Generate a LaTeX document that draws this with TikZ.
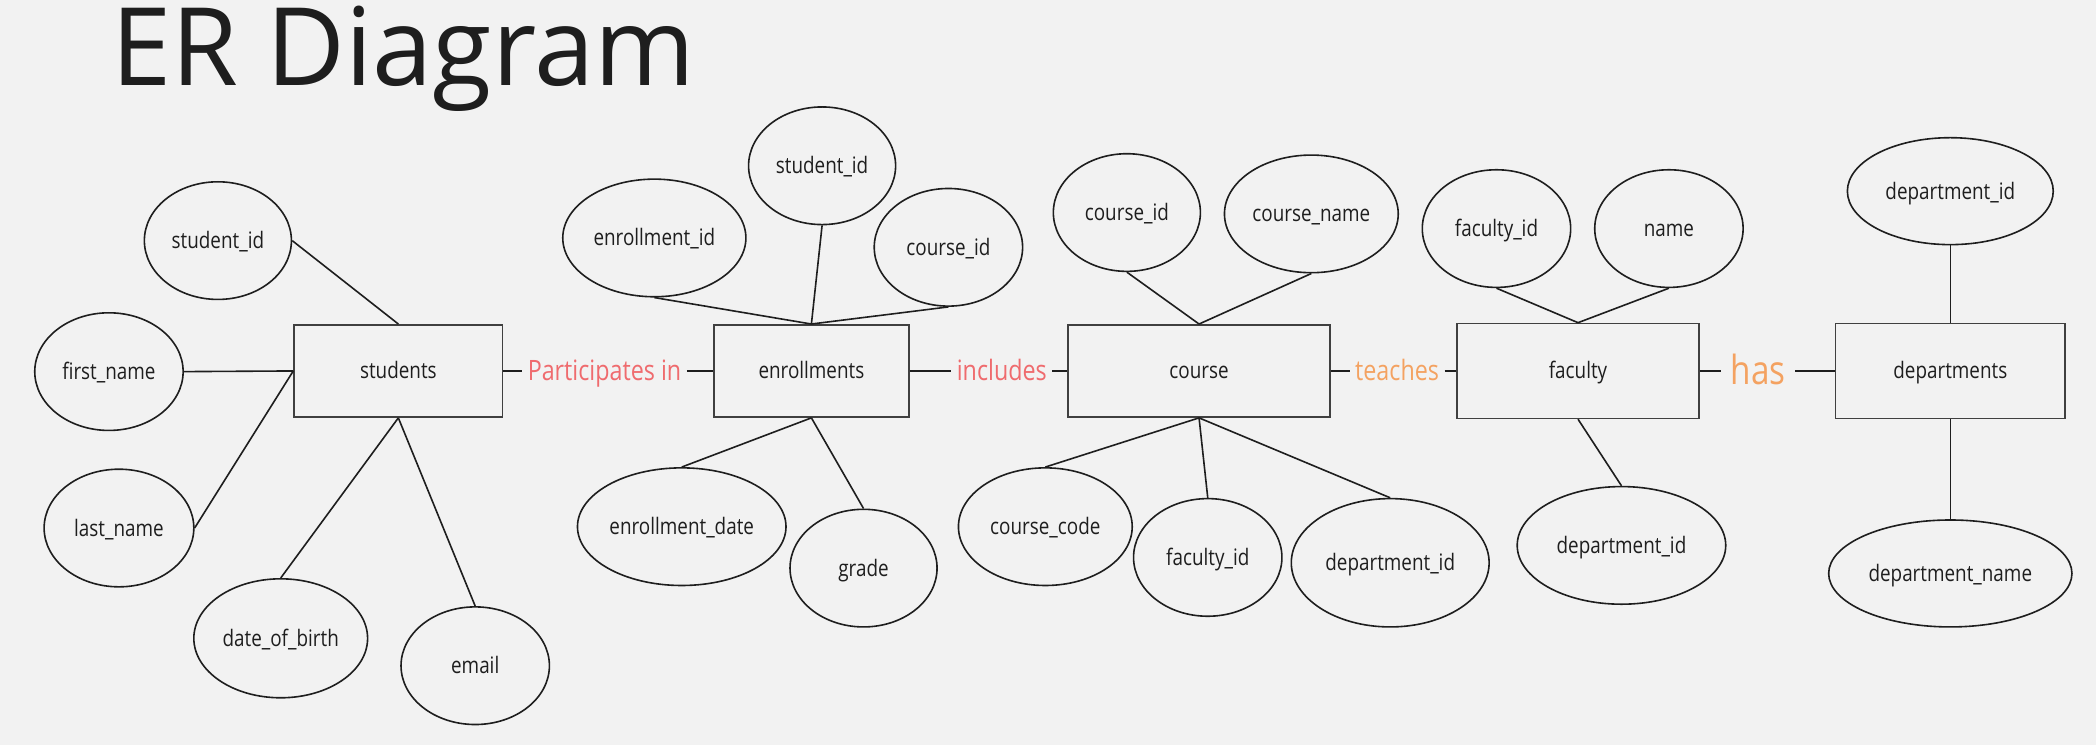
\documentclass[tikz,border=0pt]{standalone}
\usepackage{fontspec}
\setmainfont[FakeStretch=0.83]{Open Sans}
\newfontfamily\titlefont{Open Sans}
\usetikzlibrary{positioning,shapes.geometric}

\definecolor{bg}{HTML}{F2F2F2}
\definecolor{ink}{HTML}{1E1E1E}
\definecolor{relred}{HTML}{EF6B6E}
\definecolor{relorange}{HTML}{F4A261}

\begin{document}
\begin{tikzpicture}[x=1pt,y=-1pt,
    entity/.style={rectangle,draw=ink!85,line width=1.2pt,inner sep=0pt,text=ink,
      text height=12pt,text depth=0pt,font=\fontsize{17}{20}\selectfont},
    attr/.style={ellipse,draw=ink,line width=1.2pt,inner sep=0pt,text=ink,
      text height=12pt,text depth=0pt,font=\fontsize{17}{20}\selectfont},
    rel/.style={inner xsep=4pt,inner ysep=0pt,text height=15pt,text depth=0pt,
      font=\fontsize{21}{24}\selectfont},
    link/.style={draw=ink,line width=1.2pt}]

  \fill [bg] (0,0) rectangle (1568,557);
  \useasboundingbox (0,0) rectangle (1568,557);

  \node [anchor=base west,inner sep=0pt,text=ink,font=\titlefont\fontsize{81}{88}\selectfont] (title) at (83,64) {ER Diagram};

  % entities
  \node [entity,minimum width=156pt,minimum height=69pt] (students) at (298,277.5) {students};
  \node [entity,minimum width=146pt,minimum height=69pt] (enrollments) at (607,277.5) {enrollments};
  \node [entity,minimum width=196pt,minimum height=69pt] (course) at (897,277.5) {course};
  \node [entity,minimum width=181pt,minimum height=71pt] (faculty) at (1180.5,277.5) {faculty};
  \node [entity,minimum width=172pt,minimum height=71pt] (departments) at (1459,277.5) {departments};

  % relationships
  \node [rel,text=relred,right=14pt of students] (partin) {Participates in};
  \node [rel,text=relred,right=31pt of enrollments] (includes) {includes};
  \node [rel,text=relorange,right=14pt of course] (teaches) {teaches};
  \node [rel,text=relorange,inner xsep=7pt,text height=21pt,font=\fontsize{30}{34}\selectfont,right=16pt of faculty] (has) {has};

  \draw [link] (students) -- (partin);
  \draw [link] (partin) -- (enrollments);
  \draw [link] (enrollments) -- (includes);
  \draw [link] (includes) -- (course);
  \draw [link] (course) -- (teaches);
  \draw [link] (teaches) -- (faculty);
  \draw [link] (faculty) -- (has);
  \draw [link] (has) -- (departments);

  % students attributes
  \node [attr,minimum width=110pt,minimum height=88pt] (stuid) at (163,180) {student\_id};
  \node [attr,minimum width=111pt,minimum height=88pt] (first) at (81.5,278) {first\_name};
  \node [attr,minimum width=112pt,minimum height=88pt] (last) at (89,395) {last\_name};
  \node [attr,minimum width=130pt,minimum height=89pt] (dob) at (210,477.5) {date\_of\_birth};
  \node [attr,minimum width=111pt,minimum height=88pt] (email) at (355.5,498) {email};
  \draw [link] (stuid.east) -- (students.north);
  \draw [link] (first.east) -- (students.west);
  \draw [link] (last.east) -- (students.west);
  \draw [link] (dob.north) -- (students.south);
  \draw [link] (email.north) -- (students.south);

  % enrollments attributes
  \node [attr,minimum width=137pt,minimum height=88pt] (enrid) at (489.5,178) {enrollment\_id};
  \node [attr,minimum width=110pt,minimum height=88pt] (enrsid) at (615,124) {student\_id};
  \node [attr,minimum width=111pt,minimum height=88pt] (enrcid) at (709.5,185) {course\_id};
  \node [attr,minimum width=156pt,minimum height=88pt] (enrdate) at (510,394) {enrollment\_date};
  \node [attr,minimum width=110pt,minimum height=88pt] (grade) at (646,425) {grade};
  \draw [link] (enrid.south) -- (enrollments.north);
  \draw [link] (enrsid.south) -- (enrollments.north);
  \draw [link] (enrcid.south) -- (enrollments.north);
  \draw [link] (enrdate.north) -- (enrollments.south);
  \draw [link] (grade.north) -- (enrollments.south);

  % course attributes
  \node [attr,minimum width=110pt,minimum height=88pt] (crsid) at (843,159) {course\_id};
  \node [attr,minimum width=130pt,minimum height=88pt] (crsname) at (981,160) {course\_name};
  \node [attr,minimum width=130pt,minimum height=88pt] (crscode) at (782,394) {course\_code};
  \node [attr,minimum width=111pt,minimum height=88pt] (crsfid) at (903.5,417) {faculty\_id};
  \node [attr,minimum width=148pt,minimum height=96pt] (crsdid) at (1040,421) {department\_id};
  \draw [link] (crsid.south) -- (course.north);
  \draw [link] (crsname.south) -- (course.north);
  \draw [link] (crscode.north) -- (course.south);
  \draw [link] (crsfid.north) -- (course.south);
  \draw [link] (crsdid.north) -- (course.south);

  % faculty attributes
  \node [attr,minimum width=111pt,minimum height=88pt] (facid) at (1119.5,171) {faculty\_id};
  \node [attr,minimum width=111pt,minimum height=88pt] (facname) at (1248.5,171) {name};
  \node [attr,minimum width=156pt,minimum height=88pt] (facdid) at (1213,408) {department\_id};
  \draw [link] (facid.south) -- (faculty.north);
  \draw [link] (facname.south) -- (faculty.north);
  \draw [link] (facdid.north) -- (faculty.south);

  % departments attributes
  \node [attr,minimum width=154pt,minimum height=80pt] (depid) at (1459,143) {department\_id};
  \node [attr,minimum width=182pt,minimum height=80pt] (depname) at (1459,429) {department\_name};
  \draw [link] (depid.south) -- (departments.north);
  \draw [link] (depname.north) -- (departments.south);
\end{tikzpicture}
\end{document}
